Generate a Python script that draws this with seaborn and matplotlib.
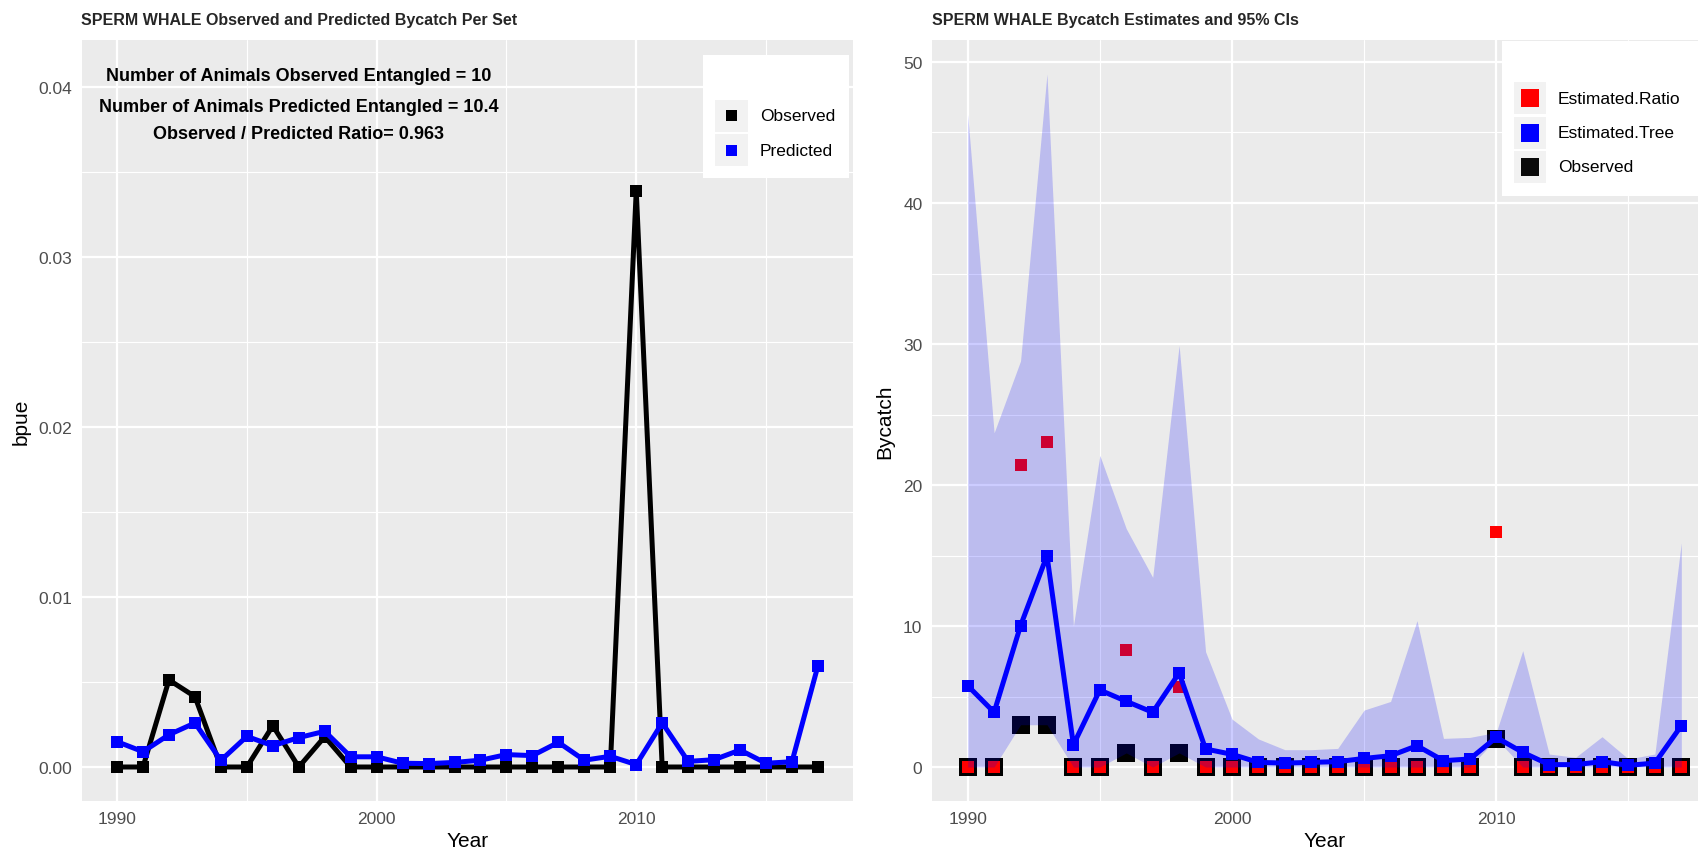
import matplotlib
matplotlib.use("Agg")
import matplotlib.pyplot as plt
from matplotlib.patches import Rectangle
from matplotlib.ticker import MultipleLocator, FormatStrFormatter
import pandas as pd
import seaborn as sns

# ---------------------------------------------------------------- data
years = [1990, 1991, 1992, 1993, 1994, 1995, 1996, 1997, 1998, 1999,
         2000, 2001, 2002, 2003, 2004, 2005, 2006, 2007, 2008, 2009,
         2010, 2011, 2012, 2013, 2014, 2015, 2016, 2017]

# bycatch per unit effort (per set)
bpue_observed = [0, 0, 0.00512, 0.00414, 0, 0, 0.00243, 0, 0.00178, 0,
                 0, 0, 0, 0, 0, 0, 0, 0, 0, 0,
                 0.0339, 0, 0, 0, 0, 0, 0, 0]
bpue_predicted = [0.00149, 0.0009, 0.0019, 0.00259, 0.00039, 0.0018, 0.00125, 0.00173, 0.0021, 0.0006,
                  0.0006, 0.00022, 0.0002, 0.00027, 0.0004, 0.00073, 0.00067, 0.00145, 0.0004, 0.00063,
                  0.00014, 0.0026, 0.00033, 0.00043, 0.001, 0.00022, 0.00031, 0.00596]

# total bycatch estimates
estimated_tree = [5.77, 3.88, 10.02, 14.99, 1.58, 5.46, 4.66, 3.88, 6.67, 1.28,
                  0.9, 0.33, 0.28, 0.33, 0.38, 0.61, 0.8, 1.51, 0.45, 0.57,
                  2.1, 1.04, 0.17, 0.17, 0.38, 0.12, 0.28, 2.93]
estimated_ratio = [0, 0, 21.42, 23.07, 0, 0, 8.32, 0, 5.65, 0,
                   0, 0, 0, 0, 0, 0, 0, 0, 0, 0,
                   16.69, 0, 0, 0, 0, 0, 0, 0]
observed_count = [0, 0, 3, 3, 0, 0, 1, 0, 1, 0,
                  0, 0, 0, 0, 0, 0, 0, 0, 0, 0,
                  2, 0, 0, 0, 0, 0, 0, 0]
ci_lower = [0, 0, 3, 3, 0, 0, 1, 0, 1, 0,
            0, 0, 0, 0, 0, 0, 0, 0, 0, 0,
            2, 0, 0, 0, 0, 0, 0, 0]
ci_upper = [46.3, 23.7, 28.8, 49.15, 10.0, 22.1, 16.9, 13.45, 29.9, 8.18,
            3.4, 1.99, 1.23, 1.23, 1.32, 4.04, 4.65, 10.38, 2.03, 2.1,
            2.46, 8.25, 0.92, 0.69, 2.15, 0.57, 0.92, 15.9]

summary_lines = ["Number of Animals Observed Entangled = 10",
                 "Number of Animals Predicted Entangled = 10.4",
                 "Observed / Predicted Ratio= 0.963"]

left_title = "SPERM WHALE Observed and Predicted Bycatch Per Set"
right_title = "SPERM WHALE Bycatch Estimates and 95% CIs"

df = pd.DataFrame({
    "Year": years,
    "obs_bpue": bpue_observed,
    "pred_bpue": bpue_predicted,
    "tree": estimated_tree,
    "ratio": estimated_ratio,
    "observed": observed_count,
    "lo": ci_lower,
    "hi": ci_upper,
})

# ---------------------------------------------------------------- style
sns.set_theme(style="darkgrid")
plt.rcParams.update({
    "font.family": ["Liberation Sans", "DejaVu Sans"],
    "axes.facecolor": "#EBEBEB",
    "grid.color": "white",
    "axes.edgecolor": "none",
    "figure.facecolor": "white",
})

W, H, DPI = 1698, 854, 100
fig = plt.figure(figsize=(W / DPI, H / DPI), dpi=DPI)


def px_axes(x0, y0, x1, y1):
    """Axes placed by pixel box (top-down y)."""
    return fig.add_axes([x0 / W, 1 - y1 / H, (x1 - x0) / W, (y1 - y0) / H])


def style_axes(ax, ymajor, yminor):
    ax.set_xlim(1988.65, 2018.35)
    ax.xaxis.set_major_locator(MultipleLocator(10))
    ax.xaxis.set_minor_locator(MultipleLocator(5))
    ax.yaxis.set_major_locator(MultipleLocator(ymajor))
    ax.yaxis.set_minor_locator(MultipleLocator(yminor))
    ax.grid(which="major", color="white", lw=1.6)
    ax.grid(which="minor", color="white", lw=0.8)
    ax.set_axisbelow(True)
    for s in ax.spines.values():
        s.set_visible(False)
    ax.tick_params(which="major", length=3.6, width=0.9, color="#333333",
                   labelsize=12.5, labelcolor="#4D4D4D", pad=3.3)
    ax.tick_params(which="minor", length=0)
    ax.set_xlabel("Year", fontsize=15, color="black", labelpad=4)


def draw_legend(box, rows, key_x, text_x, key_size):
    x0, y0, x1, y1 = box
    fig.patches.append(Rectangle((x0 / W, 1 - y1 / H), (x1 - x0) / W, (y1 - y0) / H,
                                 transform=fig.transFigure, facecolor="white",
                                 edgecolor="none", zorder=10))
    for (cy, color, label) in rows:
        kx0, kx1 = key_x
        fig.patches.append(Rectangle((kx0 / W, 1 - (cy + 16) / H), (kx1 - kx0) / W, 32 / H,
                                     transform=fig.transFigure, facecolor="#F2F2F2",
                                     edgecolor="none", zorder=11))
        cx = (kx0 + kx1) / 2
        fig.patches.append(Rectangle(((cx - key_size / 2) / W, 1 - (cy + key_size / 2) / H),
                                     key_size / W, key_size / H,
                                     transform=fig.transFigure, facecolor=color,
                                     edgecolor="none", zorder=12))
        fig.text(text_x / W, 1 - cy / H, label, fontsize=12.5, color="black",
                 va="center", ha="left", zorder=13)


# ---------------------------------------------------------------- left panel
ax1 = px_axes(82, 41, 853, 802)
sns.lineplot(data=df, x="Year", y="obs_bpue", ax=ax1, color="black", lw=3.6,
             marker="s", markersize=8, markeredgewidth=0, zorder=3)
sns.lineplot(data=df, x="Year", y="pred_bpue", ax=ax1, color="blue", lw=3.6,
             marker="s", markersize=8, markeredgewidth=0, zorder=4)
ax1.set_ylim(-0.002, 0.042765)
style_axes(ax1, 0.01, 0.005)
ax1.yaxis.set_major_formatter(FormatStrFormatter("%.2f"))
ax1.set_ylabel("bpue", fontsize=15, color="black", labelpad=6)
for txt, yv in zip(summary_lines, [0.04065, 0.03888, 0.03724]):
    ax1.text(1997.0, yv, txt, ha="center", va="center", fontsize=13,
             fontweight="bold", color="black", zorder=6)
fig.text(81 / W, 1 - 20 / H, left_title, fontsize=11.5, fontweight="bold",
         ha="left", va="center")
draw_legend((703, 56, 849, 179),
            [(116.5, "black", "Observed"), (151, "blue", "Predicted")],
            (715, 748), 760, 11)

# ---------------------------------------------------------------- right panel
ax2 = px_axes(932, 41, 1717, 802)
sns.scatterplot(data=df, x="Year", y="observed", ax=ax2, color="black",
                marker="s", s=180, linewidth=0, zorder=2, legend=False)
sns.scatterplot(data=df, x="Year", y="ratio", ax=ax2, color="red",
                marker="s", s=64, linewidth=0, zorder=3, legend=False)
ax2.fill_between(df["Year"], df["lo"], df["hi"], color="blue", alpha=0.2,
                 linewidth=0, zorder=4)
sns.lineplot(data=df, x="Year", y="tree", ax=ax2, color="blue", lw=3.6,
             marker="s", markersize=8, markeredgewidth=0, zorder=5)
ax2.set_ylim(-2.41, 51.56)
style_axes(ax2, 10, 5)
ax2.set_ylabel("Bycatch", fontsize=15, color="black", labelpad=6)
fig.text(932 / W, 1 - 20 / H, right_title, fontsize=11.5, fontweight="bold",
         ha="left", va="center")
draw_legend((1502, 42, 1720, 197),
            [(99, "red", "Estimated.Ratio"), (133.5, "blue", "Estimated.Tree"),
             (168, "#0A0A0A", "Observed")],
            (1514, 1546), 1558, 18)

fig.savefig("out.png", dpi=DPI)
